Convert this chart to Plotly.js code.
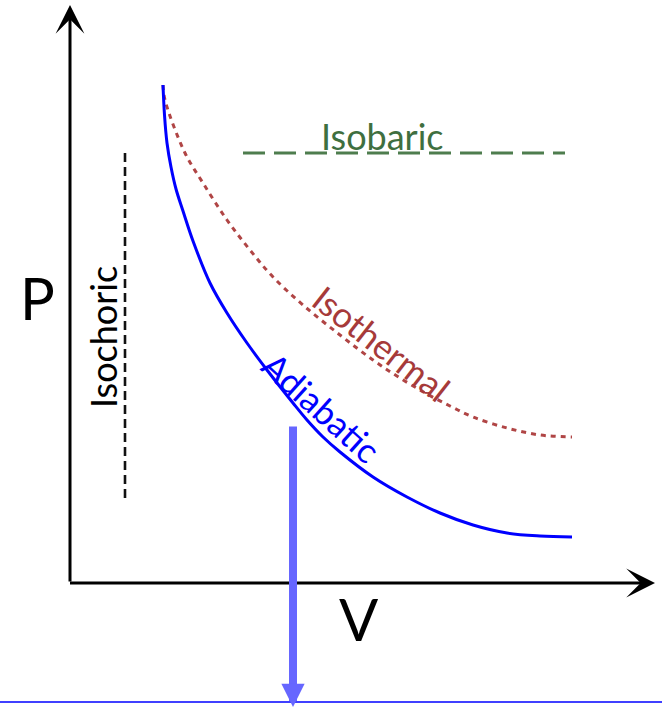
<!DOCTYPE html>
<html>
<head>
<meta charset="utf-8">
<script src="https://cdn.plot.ly/plotly-3.0.1.min.js"></script>
<style>html,body{margin:0;padding:0;background:#fff;}#chart{width:662px;height:709px;}</style>
</head>
<body>
<div id="chart"></div>
<script>
// Data (V, P) in diagram units (origin at the axes' corner)
const adiabaticV = [93, 94.5, 97, 101, 106, 113, 123, 140, 157, 177, 197, 223, 237, 253, 270, 303, 337, 370, 403, 437, 470, 502];
const adiabaticP = [498, 468, 440, 416, 394, 372, 342, 300, 270, 240, 213, 180, 163, 146, 131, 106, 86, 70, 58, 50, 47, 46];
const isothermalV = [93, 95, 115, 133, 157, 180, 203, 233, 270, 303, 330, 357, 380, 403, 437, 470, 502];
const isothermalP = [498, 483, 430, 400, 363, 333, 306, 278, 248, 223, 205, 189, 177, 166, 155, 148, 146];
const isochoricV = [55, 55];
const isochoricP = [430, 85];
const isobaricV = [173, 495];
const isobaricP = [430, 430];
const labels = {P: "P", V: "V", isochoric: "Isochoric", isobaric: "Isobaric", isothermal: "Isothermal", adiabatic: "Adiabatic"};

const FONT = "Lato, 'Open Sans', sans-serif";

const traces = [
  {x: isochoricV, y: isochoricP, mode: "lines", line: {color: "#111", width: 2.6, dash: "9px,5px"}, hoverinfo: "skip"},
  {x: isobaricV, y: isobaricP, mode: "lines", line: {color: "#4e7d4e", width: 3, dash: "22px,9px"}, hoverinfo: "skip"},
  {x: isothermalV, y: isothermalP, mode: "lines", line: {color: "#b04545", width: 3, dash: "5px,5px", shape: "spline"}, hoverinfo: "skip"},
  {x: adiabaticV, y: adiabaticP, mode: "lines", line: {color: "#0000ff", width: 3, shape: "spline"}, hoverinfo: "skip"}
];

const layout = {
  width: 662, height: 709,
  margin: {l: 0, r: 0, t: 0, b: 0},
  paper_bgcolor: "#ffffff", plot_bgcolor: "#ffffff",
  showlegend: false,
  xaxis: {range: [-70, 592], visible: false, fixedrange: true},
  yaxis: {range: [-126, 583], visible: false, fixedrange: true},
  shapes: [
    {type: "line", xref: "paper", yref: "y", x0: 0, x1: 1, y0: -119, y1: -119, line: {color: "#0000ff", width: 1.5}}
  ],
  annotations: [
    // axes with arrowheads
    {x: 0, y: 578, ax: 0, ay: 0, xref: "x", yref: "y", axref: "x", ayref: "y", text: "", showarrow: true,
     arrowhead: 3, arrowsize: 1.6, arrowwidth: 3, arrowcolor: "#000", standoff: 0, startstandoff: 0},
    {x: 585, y: 0, ax: -1.5, ay: 0, xref: "x", yref: "y", axref: "x", ayref: "y", text: "", showarrow: true,
     arrowhead: 3, arrowsize: 1.6, arrowwidth: 3, arrowcolor: "#000", standoff: 0, startstandoff: 0},
    // big blue arrow
    {x: 223, y: -124, ax: 223, ay: 158, xref: "x", yref: "y", axref: "x", ayref: "y", text: "", showarrow: true,
     arrowhead: 2, arrowsize: 0.58, arrowwidth: 8, arrowcolor: "#6666ff", standoff: 0, startstandoff: 0},
    // labels
    {x: -33, y: 286, xref: "x", yref: "y", text: labels.P, showarrow: false, font: {family: FONT, size: 58, color: "#000"}},
    {x: 289, y: -35, xref: "x", yref: "y", text: labels.V, showarrow: false, font: {family: FONT, size: 58, color: "#000"}},
    {x: 33, y: 246, xref: "x", yref: "y", text: labels.isochoric, textangle: -90, showarrow: false, font: {family: FONT, size: 36, color: "#000"}},
    {x: 312, y: 447, xref: "x", yref: "y", text: labels.isobaric, showarrow: false, font: {family: FONT, size: 36, color: "#3f6f3f"}},
    {x: 312, y: 240, xref: "x", yref: "y", text: labels.isothermal, textangle: 38, showarrow: false, font: {family: FONT, size: 35, color: "#a63a3a"}},
    {x: 252, y: 176, xref: "x", yref: "y", text: labels.adiabatic, textangle: 42, showarrow: false, font: {family: FONT, size: 35, color: "#0000ff"}}
  ]
};

Plotly.newPlot("chart", traces, layout, {staticPlot: true, displayModeBar: false});
</script>
</body>
</html>
